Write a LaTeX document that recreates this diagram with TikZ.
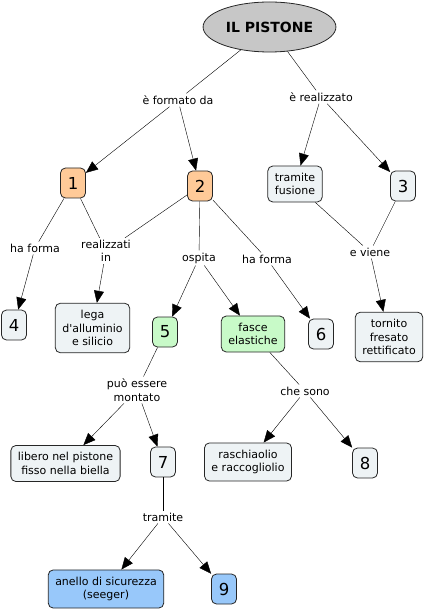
\documentclass[tikz,border=0pt]{standalone}
\usepackage{fontspec}
\setmainfont{DejaVu Sans}
\usetikzlibrary{arrows.meta, shapes.geometric}
\usepackage{xcolor}
\definecolor{peach}{HTML}{FFCA98}
\definecolor{mint}{HTML}{C8FAC8}
\definecolor{sky}{HTML}{98C8FA}
\definecolor{pale}{HTML}{EEF3F5}

\begin{document}
\begin{tikzpicture}[x=1pt, y=-1pt, >={Triangle[length=12pt, width=10pt]},
  concept/.style={draw=black!85, line width=0.8pt, rounded corners=5pt, fill=pale,
    align=center, font=\fontsize{11}{13.5}\selectfont, inner xsep=7pt, inner ysep=7pt},
  num/.style={concept, font=\fontsize{16.5}{18}\selectfont, inner sep=1pt,
    minimum width=25pt, minimum height=30pt},
  link/.style={align=center, font=\fontsize{11}{13.5}\selectfont, inner sep=2pt}]
  \useasboundingbox (0,0) rectangle (426,612);

  % Root
  \node[ellipse, draw=black!85, line width=0.8pt, fill=black!22, minimum width=111pt,
    minimum height=50pt, font=\bfseries\fontsize{14}{16}\selectfont] (pistone) at (269.5,27) {IL PISTONE};

  % First level
  \node[link] (formato) at (178,100) {è formato da};
  \node[link] (realizzato) at (321,97) {è realizzato};
  \node[num, fill=peach] (n1) at (73,183) {1};
  \node[num, fill=peach] (n2) at (200,186) {2};
  \node[concept] (fusione) at (295,184) {tramite\\fusione};
  \node[num] (n3) at (403,186) {3};

  % Second level
  \node[link] (forma1) at (35,248) {ha forma};
  \node[link] (realizzati) at (106,251) {realizzati\\in};
  \node[link] (ospita) at (199,258) {ospita};
  \node[link] (forma2) at (267,259) {ha forma};
  \node[link] (viene) at (370,252) {e viene};
  \node[num] (n4) at (14,325) {4};
  \node[concept] (lega) at (92.5,328) {lega\\d\textquotesingle alluminio\\e silicio};
  \node[num, fill=mint] (n5) at (165,332) {5};
  \node[concept, fill=mint] (fasce) at (253,334) {fasce\\elastiche};
  \node[num] (n6) at (321,334) {6};
  \node[concept] (tornito) at (389,337) {tornito\\fresato\\rettificato};

  % Third level
  \node[link] (montato) at (137,390) {può essere\\montato};
  \node[link] (sono) at (305,391) {che sono};
  \node[concept] (libero) at (65.5,463.5) {libero nel pistone\\fisso nella biella};
  \node[num] (n7) at (163,462) {7};
  \node[concept] (raschia) at (248,462) {raschiaolio\\e raccogliolio};
  \node[num] (n8) at (365,463) {8};

  % Last level
  \node[link] (tramite) at (163,517) {tramite};
  \node[concept, fill=sky] (anello) at (106,589) {anello di sicurezza\\(seeger)};
  \node[num, fill=sky] (n9) at (224,589) {9};

  % Connectors
  \draw (pistone) -- (formato);
  \draw[->] (formato) -- (n1);
  \draw[->] (formato) -- (n2);
  \draw (pistone) -- (realizzato);
  \draw[->] (realizzato) -- (fusione);
  \draw[->] (realizzato) -- (n3);

  \draw (n1) -- (forma1);
  \draw[->] (forma1) -- (n4);
  \draw (n1) -- (realizzati);
  \draw (n2) -- (realizzati);
  \draw[->] (realizzati) -- (lega);
  \draw (n2) -- (ospita);
  \draw[->] (ospita) -- (n5);
  \draw[->] (ospita) -- (fasce);
  \draw (n2) -- (forma2);
  \draw[->] (forma2) -- (n6);
  \draw (fusione) -- (viene);
  \draw (n3) -- (viene);
  \draw[->] (viene) -- (tornito);

  \draw (n5) -- (montato);
  \draw[->] (montato) -- (libero);
  \draw[->] (montato) -- (n7);
  \draw (fasce) -- (sono);
  \draw[->] (sono) -- (raschia);
  \draw[->] (sono) -- (n8);

  \draw (n7) -- (tramite);
  \draw[->] (tramite) -- (anello);
  \draw[->] (tramite) -- (n9);
\end{tikzpicture}
\end{document}
